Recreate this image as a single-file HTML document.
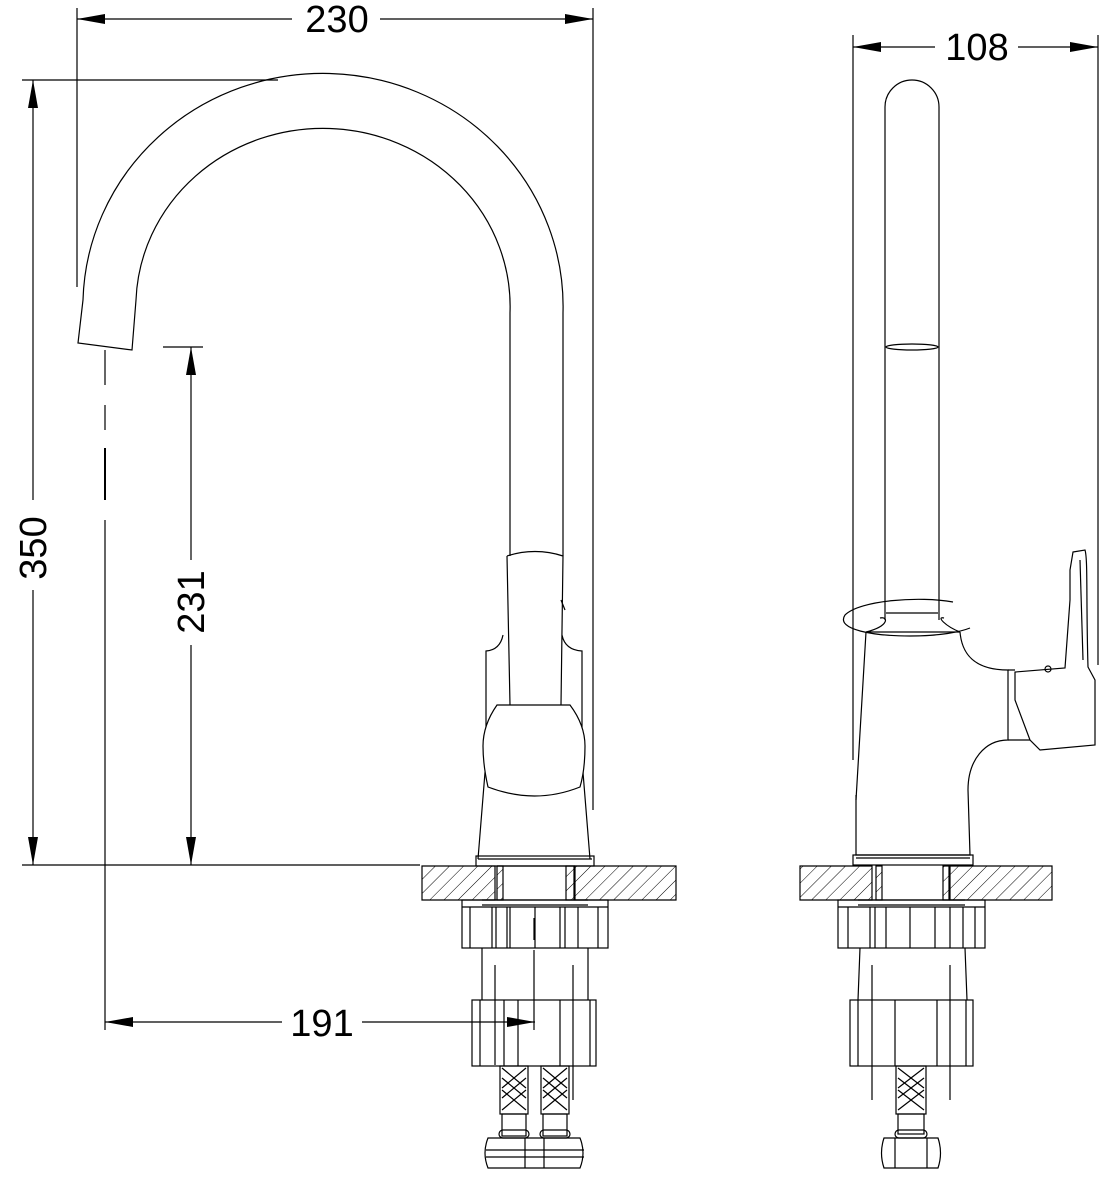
<!DOCTYPE html>
<html><head><meta charset="utf-8"><style>
html,body{margin:0;padding:0;background:#fff;}
svg{display:block;}
text{font-family:"Liberation Sans",sans-serif;font-size:38px;fill:#000;}
</style></head><body>
<svg width="1109" height="1180" viewBox="0 0 1109 1180" xmlns="http://www.w3.org/2000/svg">
<defs>
<pattern id="h" patternUnits="userSpaceOnUse" width="10" height="10" patternTransform="rotate(45)">
<line x1="0" y1="0" x2="0" y2="10" stroke="#000" stroke-width="1"/>
</pattern>
</defs>
<g fill="none" stroke="#000" stroke-width="1.2">
<!-- ===== DIMENSIONS LEFT ===== -->
<line x1="77" y1="8" x2="77" y2="287"/>
<line x1="593" y1="8" x2="593" y2="810"/>
<line x1="77" y1="19" x2="292" y2="19"/>
<line x1="380" y1="19" x2="593" y2="19"/>
<line x1="22" y1="80" x2="278" y2="80"/>
<line x1="22" y1="865" x2="420" y2="865"/>
<line x1="33" y1="80" x2="33" y2="500"/>
<line x1="33" y1="590" x2="33" y2="865"/>
<line x1="163" y1="347" x2="203" y2="347"/>
<line x1="191" y1="347" x2="191" y2="560"/>
<line x1="191" y1="645" x2="191" y2="865"/>
<line x1="105" y1="350" x2="105" y2="385"/>
<line x1="105" y1="405" x2="105" y2="430"/>
<line x1="105" y1="448" x2="105" y2="500" stroke-width="2"/>
<line x1="105" y1="520" x2="105" y2="1030"/>
<line x1="105" y1="1022" x2="282" y2="1022"/>
<line x1="362" y1="1022" x2="535" y2="1022"/>
<!-- ===== DIMENSIONS RIGHT ===== -->
<line x1="853" y1="35" x2="853" y2="760"/>
<line x1="1098" y1="35" x2="1098" y2="665"/>
<line x1="853" y1="47" x2="935" y2="47"/>
<line x1="1018" y1="47" x2="1098" y2="47"/>

<!-- ===== LEFT VIEW SPOUT ===== -->
<path d="M563,556 L563,313 A240,233 0 0 0 83,300 L78,343 L132,350 L136,300 A187,178 0 0 1 510,313 L510,556"/>
<!-- body -->
<path d="M503,635 Q500,650 486,651 L486,760 L478,859"/>
<path d="M562,635 Q565,650 582,651 L582,760 L590,859"/>
<!-- lever -->
<path d="M507,556 C525,550 545,550 563,556 L561,705 M507,556 L510,705"/>
<line x1="561" y1="600" x2="565" y2="610"/>
<!-- bulb -->
<path d="M497,705 L570,705 Q585,725 585,746 Q585,770 580,787 Q535,805 488,787 Q483,765 483,746 Q483,725 497,705 Z" fill="#fff"/>
<rect x="476" y="856" width="118" height="10"/>
<line x1="478" y1="859" x2="592" y2="859"/>
<!-- countertop -->
<path d="M422,866 L495,866 L495,900 L422,900 Z" fill="url(#h)"/>
<path d="M575,866 L676,866 L676,900 L575,900 Z" fill="url(#h)"/>
<rect x="497" y="866" width="6" height="34" fill="url(#h)"/>
<rect x="566" y="866" width="8" height="34" fill="url(#h)"/>
<line x1="497" y1="866" x2="575" y2="866"/>
<line x1="482" y1="900" x2="588" y2="900"/>
<line x1="482" y1="905" x2="588" y2="905"/>
<!-- nut 1 -->
<rect x="462" y="900" width="146" height="48"/>
<line x1="462" y1="907" x2="608" y2="907"/>
<line x1="470" y1="907" x2="470" y2="948"/><line x1="492" y1="907" x2="492" y2="948"/><line x1="496" y1="907" x2="496" y2="948"/>
<line x1="507" y1="907" x2="507" y2="948"/><line x1="510" y1="907" x2="510" y2="948"/><line x1="535" y1="907" x2="535" y2="948"/>
<line x1="560" y1="907" x2="560" y2="948"/><line x1="565" y1="907" x2="565" y2="948"/><line x1="578" y1="907" x2="578" y2="948"/><line x1="598" y1="907" x2="598" y2="948"/>
<!-- shaft -->
<path d="M482,948 L482,1000 M588,948 L588,1000"/>
<line x1="495" y1="965" x2="495" y2="1065"/>
<line x1="573" y1="965" x2="573" y2="1100"/>
<line x1="534" y1="918" x2="534" y2="940"/>
<line x1="534" y1="950" x2="534" y2="1030"/>
<!-- nut 2 -->
<rect x="472" y="1000" width="124" height="66"/>
<line x1="480" y1="1000" x2="480" y2="1066"/><line x1="504" y1="1000" x2="504" y2="1066"/><line x1="518" y1="1000" x2="518" y2="1066"/>
<line x1="560" y1="1000" x2="560" y2="1066"/><line x1="590" y1="1000" x2="590" y2="1066"/>
<!-- hoses -->
<rect x="500" y="1066" width="28" height="48"/>
<rect x="541" y="1066" width="28" height="48"/>
<path d="M502,1068 l24,20 M502,1088 l24,-20 M502,1078 l24,20 M502,1098 l24,-20 M502,1090 l24,20 M502,1110 l24,-20"/>
<path d="M543,1068 l24,20 M543,1088 l24,-20 M543,1078 l24,20 M543,1098 l24,-20 M543,1090 l24,20 M543,1110 l24,-20"/>
<rect x="502" y="1114" width="24" height="22"/>
<rect x="543" y="1114" width="24" height="22"/>
<rect x="499" y="1130" width="30" height="8" rx="4"/>
<rect x="540" y="1130" width="30" height="8" rx="4"/>
<path d="M488,1138 L580,1138 Q586,1153 580,1168 L488,1168 Q482,1153 488,1138 Z"/>
<line x1="525" y1="1138" x2="525" y2="1168"/><line x1="544" y1="1138" x2="544" y2="1168"/>
<path d="M486,1150 L584,1150 M486,1157 L584,1157"/>

<!-- ===== RIGHT VIEW ===== -->
<path d="M885,620 L885,107 A27,27 0 0 1 939,107 L939,620"/>
<ellipse cx="912" cy="347" rx="26" ry="3"/>
<path d="M953,602 C920,596 860,600 845,615 C835,630 875,636 910,636 C940,636 960,632 970,628"/>
<line x1="886" y1="613" x2="938" y2="613"/>
<path d="M880,618 C888,616 890,626 866,632 L960,632 C945,626 936,616 944,618"/>
<!-- body -->
<path d="M866,632 L856,800 M960,632 C962,655 975,670 1008,670 L1008,740 C985,740 968,760 968,790"/>
<path d="M1008,670 L1015,670 M1008,740 L1030,740"/>
<!-- lever -->
<path d="M1073,552 L1085,550 C1088,560 1086,600 1088,667 L1095,680 L1095,745 L1040,750 L1030,740 L1015,700 L1015,672 L1065,668 L1070,600 L1070,570 Z"/>
<line x1="1080" y1="560" x2="1083" y2="660"/>
<circle cx="1048" cy="669" r="3"/>
<path d="M856,795 L856,855 L970,855 L968,790"/>
<rect x="853" y="855" width="120" height="10"/>
<line x1="856" y1="858" x2="970" y2="858"/>
<!-- countertop -->
<path d="M800,866 L872,866 L872,900 L800,900 Z" fill="url(#h)"/>
<path d="M950,866 L1052,866 L1052,900 L950,900 Z" fill="url(#h)"/>
<rect x="876" y="866" width="6" height="34" fill="url(#h)"/>
<rect x="943" y="866" width="6" height="34" fill="url(#h)"/>
<line x1="858" y1="900" x2="965" y2="900"/>
<line x1="858" y1="905" x2="965" y2="905"/>
<!-- nut 1 -->
<rect x="838" y="900" width="147" height="48"/>
<line x1="838" y1="907" x2="985" y2="907"/>
<line x1="848" y1="907" x2="848" y2="948"/><line x1="870" y1="907" x2="870" y2="948"/><line x1="875" y1="907" x2="875" y2="948"/>
<line x1="886" y1="907" x2="886" y2="948"/><line x1="910" y1="907" x2="910" y2="948"/><line x1="935" y1="907" x2="935" y2="948"/>
<line x1="950" y1="907" x2="950" y2="948"/><line x1="963" y1="907" x2="963" y2="948"/><line x1="975" y1="907" x2="975" y2="948"/>
<path d="M860,948 L858,1000 M965,948 L967,1000"/>
<line x1="872" y1="965" x2="872" y2="1100"/>
<line x1="950" y1="965" x2="950" y2="1100"/>
<!-- nut 2 -->
<rect x="850" y="1000" width="123" height="66"/>
<line x1="858" y1="1000" x2="858" y2="1066"/><line x1="895" y1="1000" x2="895" y2="1066"/><line x1="937" y1="1000" x2="937" y2="1066"/><line x1="966" y1="1000" x2="966" y2="1066"/>
<!-- hose -->
<rect x="896" y="1066" width="30" height="48"/>
<path d="M898,1068 l26,20 M898,1088 l26,-20 M898,1078 l26,20 M898,1098 l26,-20 M898,1090 l26,20 M898,1110 l26,-20"/>
<rect x="898" y="1114" width="26" height="20"/>
<rect x="895" y="1130" width="32" height="8" rx="4"/>
<path d="M884,1138 L938,1138 Q943,1153 938,1168 L884,1168 Q879,1153 884,1138 Z"/>
<line x1="895" y1="1138" x2="895" y2="1168"/><line x1="927" y1="1138" x2="927" y2="1168"/>
</g>
<!-- arrowheads -->
<g fill="#000">
<polygon points="77,19 105,14 105,24"/>
<polygon points="593,19 565,14 565,24"/>
<polygon points="33,80 28,108 38,108"/>
<polygon points="33,865 28,837 38,837"/>
<polygon points="191,347 186,375 196,375"/>
<polygon points="191,865 186,837 196,837"/>
<polygon points="105,1022 133,1017 133,1027"/>
<polygon points="535,1022 507,1017 507,1027"/>
<polygon points="853,47 881,42 881,52"/>
<polygon points="1098,47 1070,42 1070,52"/>
</g>
<text x="337" y="32" text-anchor="middle">230</text>
<text x="977" y="60" text-anchor="middle">108</text>
<text x="322" y="1036" text-anchor="middle">191</text>
<text transform="translate(46,548) rotate(-90)" text-anchor="middle">350</text>
<text transform="translate(204,602) rotate(-90)" text-anchor="middle">231</text>
</svg>
</body></html>
